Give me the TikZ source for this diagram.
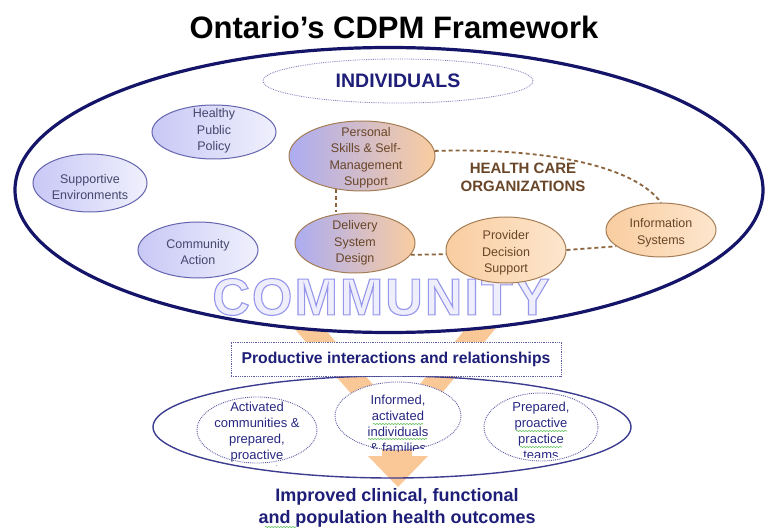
\documentclass[tikz,border=0pt]{standalone}
\usepackage{fontspec}
\setmainfont{Liberation Sans}
\newfontfamily\commfont[LetterSpace=4]{Liberation Sans}
\usetikzlibrary{positioning,shapes.geometric,decorations.pathmorphing}
\definecolor{cdnavy}{RGB}{20,20,105}
\definecolor{indline}{RGB}{120,120,185}
\definecolor{indtext}{RGB}{30,30,120}
\definecolor{lavline}{RGB}{100,100,175}
\definecolor{lavdark}{RGB}{200,200,246}
\definecolor{lavlight}{RGB}{240,240,253}
\definecolor{softtextc}{RGB}{70,70,110}
\definecolor{hcline}{RGB}{165,125,85}
\definecolor{hcbrown}{RGB}{140,100,60}
\definecolor{hctextc}{RGB}{105,70,40}
\definecolor{lavleft}{RGB}{172,172,242}
\definecolor{peachdark}{RGB}{249,205,160}
\definecolor{peachlight}{RGB}{253,230,205}
\definecolor{arroworange}{RGB}{250,200,150}
\definecolor{arrowlav}{RGB}{208,190,234}
\definecolor{botnavy}{RGB}{60,60,145}
\definecolor{dotnavy}{RGB}{95,95,165}
\definecolor{bottextc}{RGB}{40,40,130}
\definecolor{spellgreen}{RGB}{90,190,90}
\newcommand\hollowtext[1]{\special{pdf:literal direct 2 Tr 1.1 w 0.588 0.588 0.925 RG 0.933 0.933 0.988 rg}#1\special{pdf:literal direct 0 Tr 0 g 0 G}}

\begin{document}
\begin{tikzpicture}[x=1pt,y=-1pt]
                \tikzstyle{every node}=[inner sep=0pt]
                \tikzstyle{softell}=[ellipse, draw=lavline, line width=1pt, left color=lavdark, right color=lavlight]
                \tikzstyle{softtext}=[align=center, text=softtextc, font=\fontsize{12.5}{16.5}\selectfont]
                \tikzstyle{hcmixell}=[ellipse, draw=hcline, line width=1pt, left color=lavleft, right color=peachdark]
                \tikzstyle{hcell}=[ellipse, draw=hcline, line width=1pt, left color=peachdark, right color=peachlight]
                \tikzstyle{hctext}=[align=center, text=hctextc, font=\fontsize{12.5}{16.5}\selectfont]
                \tikzstyle{hclink}=[draw=hcbrown, line width=1.8pt, dash pattern=on 4pt off 3pt]
                \tikzstyle{pell}=[ellipse, draw=dotnavy, line width=0.9pt, densely dotted, fill=white]
                \tikzstyle{ptext}=[align=center, text=bottextc, font=\fontsize{13}{16}\selectfont]
                \tikzstyle{squiggle}=[draw=spellgreen, line width=0.6pt, decorate, decoration={snake, segment length=3pt, amplitude=0.6pt}]
                \useasboundingbox (0,0) rectangle (765,529);
                \node (title) at (394,27) {\fontsize{31}{31}\selectfont\bfseries Ontario’s CDPM Framework};
                \shade[top color=arroworange, middle color=arrowlav, bottom color=arroworange]
                    (278,310) -- (308,310) -- (397,412) -- (481,310) -- (511,310) -- (412,429) -- (412,456) -- (428,456)
                    -- (398,487) -- (368,456) -- (382,456) -- (382,429) -- cycle;
                \node (cdpm)     [ellipse, fill=white, minimum width=748pt, minimum height=285pt] at (389,190) {};
                \node (comm)     [font=\commfont\bfseries\fontsize{52}{52}\selectfont] at (381,297) {\hollowtext{COMMUNITY}};
                \node (cdpmring) [ellipse, draw=cdnavy, line width=3.2pt, minimum width=748pt, minimum height=285pt] at (cdpm) {};
                \node (ind)      [ellipse, draw=indline, line width=0.8pt, densely dotted, minimum width=270pt, minimum height=44pt,
                                  text=indtext, font=\fontsize{19.5}{20}\selectfont\bfseries] at (398,81) {INDIVIDUALS};
                \node (hpp)      [softell, minimum width=124pt, minimum height=54pt, label={[softtext, yshift=1pt]center:Healthy\\Public\\Policy}] at (214,132) {};
                \node (supenv)   [softell, minimum width=114pt, minimum height=58pt, label={[softtext, yshift=-4pt]center:Supportive\\Environments}] at (90,183) {};
                \node (comact)   [softell, minimum width=120pt, minimum height=56pt, label={[softtext, yshift=-2pt]center:Community\\Action}] at (198,250) {};
                \node (pss)      [hcmixell, minimum width=146pt, minimum height=70pt, label={[hctext, xshift=4pt, yshift=-2pt]center:Personal\\Skills \& Self-\\Management\\Support}] at (362,156) {};
                \node (dsd)      [hcmixell, minimum width=120pt, minimum height=60pt, label={[hctext]center:Delivery\\System\\Design}] at (355,243) {};
                \node (pds)      [hcell, minimum width=120pt, minimum height=66pt, label={[hctext, yshift=-3pt]center:Provider\\Decision\\Support}] at (506,250) {};
                \node (info)     [hcell, minimum width=110pt, minimum height=54pt, label={[hctext, yshift=-3pt]center:Information\\Systems}] at (661,230) {};
                \node (hco)      [align=center, text=hctextc, font=\fontsize{15}{18}\selectfont\bfseries] at (523,177) {HEALTH CARE\\ORGANIZATIONS};
                \draw[hclink] (pss.4) .. controls +(100,-3) and +(-30,-40) .. (info.north);
                \draw[hclink] (pss.232) -- (pss.232 |- dsd.north);
                \draw[hclink] (dsd.-12) -- (pds.184);
                \draw[hclink] (pds.east) -- (info.200);
                \node (outc)     [ellipse, draw=botnavy, line width=1.4pt, minimum width=478pt, minimum height=102pt] at (392,427) {};
                \node (prod)     [draw=dotnavy, line width=0.8pt, densely dotted, fill=white, minimum width=330pt, minimum height=34pt,
                                  text=indtext, font=\fontsize{15.7}{16}\selectfont\bfseries] at (396,359) {Productive interactions and relationships};
                \node (acp)      [pell, minimum width=120pt, minimum height=66pt] at (257,430) {};
                \node (iaif)     [pell, minimum width=126pt, minimum height=68pt] at (398,416) {};
                \node (ppt)      [pell, minimum width=114pt, minimum height=68pt] at (541,427) {};
                \begin{scope}
                    \clip (acp.center) ellipse [x radius=62pt, y radius=37pt];
                    \node (acptext)  [ptext] at (257,440) {Activated\\communities \&\\prepared,\\proactive\\community};
                \end{scope}
                \begin{scope}
                    \clip (iaif.center) ellipse [x radius=64pt, y radius=35pt];
                    \node (iaiftext) [ptext] at (398,424) {Informed,\\activated\\individuals\\\& families};
                    \draw[squiggle] (373,424) -- (423,424);
                    \draw[squiggle] (368,439) -- (427,439);
                \end{scope}
                \begin{scope}
                    \clip (ppt.center) ellipse [x radius=58pt, y radius=31pt];
                    \node (ppttext)  [ptext] at (541,431) {Prepared,\\proactive\\practice\\teams};
                    \draw[squiggle] (516,431) -- (567,431);
                    \draw[squiggle] (520,447) -- (562,447);
                \end{scope}
                \node (result)   [align=center, text=indtext, font=\fontsize{18}{22}\selectfont\bfseries] at (397,508) {Improved clinical, functional\\and population health outcomes};
                \draw[squiggle] (265,527) -- (296,527);
            \end{tikzpicture}
\end{document}
